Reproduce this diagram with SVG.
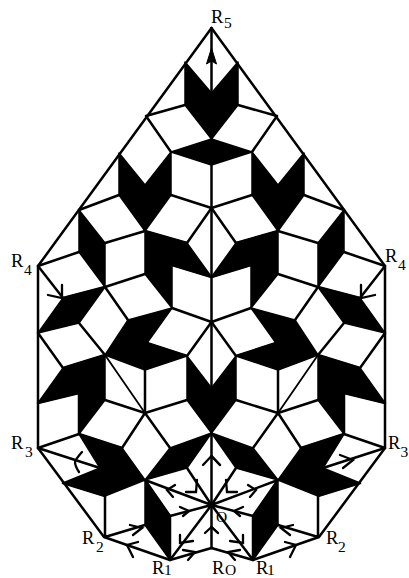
<svg xmlns="http://www.w3.org/2000/svg" xmlns:xlink="http://www.w3.org/1999/xlink" width="409" height="578" viewBox="0 0 409 578">
<style>
.tile{fill:#000;stroke:#000;stroke-width:1.5;stroke-linejoin:round}
.edge{fill:none;stroke:#000;stroke-width:2.5;stroke-linecap:round;stroke-linejoin:round}
.thin{stroke-width:1.8}
.barb{fill:none;stroke:#000;stroke-width:2.3;stroke-linecap:round;stroke-linejoin:miter}
text{font-family:"Liberation Serif","Times New Roman",serif;fill:#000}
.r{font-size:18.5px}
.s{font-size:15.5px}
</style>
<defs>
<g id="half-tiles">
<polygon class="tile" points="185,62 211.5,93 211.5,139 185,105"/>
<polygon class="tile" points="171,152 211.5,139 211.5,165"/>
<polygon class="tile" points="119,153 145,185 171,152 171,195 145,231 119,195"/>
<polygon class="tile" points="79,210 105,243 105,287 79,252"/>
<polygon class="tile" points="145,231 187,243 211.5,277 172,265 172,308 145,274"/>
<polygon class="tile" points="63,298 105,287 79,323 38,333"/>
<polygon class="tile" points="105,355 128,320 172,308 147,343 187,356 145,370"/>
<polygon class="tile" points="187,356 211.5,388 211.5,433 187,400"/>
<polygon class="tile" points="63,368 105,355 105,400 79,434 79,393 38,403"/>
<polygon class="tile" points="79,434 122,448 145,480 105,496 63,483 100,468"/>
<polygon class="tile" points="211.5,433 170,448 145,480 187,468"/>
<polygon class="tile" points="145,480 170,516 170,560 145,525"/>
</g>
<g id="half-edges">
<path class="edge" d="M211.5,28L38,266V333M38,333V448L104,537L170,560L211.5,548"/>
<path class="edge" d="M185,105L146,116L171,152M119,195L79,210M171,195L211.5,208M145,231L187,243L211.5,208M105,243L145,231"/>
<path class="edge" d="M79,252L38,266L63,298L105,287L145,274M172,265L211.5,277M172,308L211.5,322L187,356L147,343M105,287L128,320"/>
<path class="edge" d="M38,333L63,368L105,355L79,323M145,370V413L187,400M105,400L145,413L170,448M145,413L122,448M79,393V434M38,403L79,393"/>
<path class="edge thin" d="M105,355L145,413"/>
<path class="edge" d="M38,448L79,434L122,448M38,448L100,468M63,483L105,496V537L145,525M170,516V560M170,516L145,480M187,468L211.5,505L145,480M170,516L211.5,505L170,560"/>
</g>
<g id="half-arrows">
<path class="barb" d="M203,465L211.5,456"/>
<path class="barb" d="M197,480L196,492L186,492"/>
<path class="barb" d="M175,485L167,490L173,497"/>
<path class="barb" d="M180,507L189,511L183,516"/>
<path class="barb" d="M205,533L211.5,527"/>
<path class="barb" d="M180,535L180,543L193,541"/>
<path class="barb" d="M183,550L195,552L188,560"/>
<path class="barb" d="M138,542L127,545L133,557"/>
<path class="barb" d="M130,525L142,528L133,535"/>
<path class="barb" d="M48,295L62,298L62,285"/>
</g>
</defs>
<g id="tiling-left"><use href="#half-tiles" xlink:href="#half-tiles"/></g>
<g id="tiling-right"><use href="#half-tiles" xlink:href="#half-tiles" transform="translate(423,0) scale(-1,1)"/></g>
<g id="connectors">
<path class="edge" d="M211.5,28V93M211.5,165V548"/>
<use href="#half-edges" xlink:href="#half-edges"/>
<use href="#half-edges" xlink:href="#half-edges" transform="translate(423,0) scale(-1,1)"/>
<path class="barb" d="M211.5,456L220,465"/>
<path class="barb" d="M211.5,527L218,533"/>
</g>
<g id="arrows">
<use href="#half-arrows" xlink:href="#half-arrows"/>
<use href="#half-arrows" xlink:href="#half-arrows" transform="translate(423,0) scale(-1,1)"/>
<path class="barb" d="M82,452Q75,460 75,462Q75,466 79,472"/>
<path class="barb" d="M340,455L353,460L343,468"/>
<polygon points="211.5,48 206.5,64 211.5,61 216.5,64" fill="#000" stroke="#000" stroke-width="1"/>
</g>
<g id="labels">
<text class="r" x="211" y="23">R</text><text class="s" x="224" y="28">5</text>
<text class="r" x="11" y="267">R</text><text class="s" x="24" y="275">4</text>
<text class="r" x="385" y="262">R</text><text class="s" x="398" y="270">4</text>
<text class="r" x="11" y="449">R</text><text class="s" x="25" y="457">3</text>
<text class="r" x="388" y="449">R</text><text class="s" x="400.5" y="457">3</text>
<text class="r" x="82" y="544">R</text><text class="s" x="96" y="552">2</text>
<text class="r" x="326" y="544">R</text><text class="s" x="338" y="552">2</text>
<text class="r" x="152" y="573.5">R</text><text class="s" x="164" y="574.5">1</text>
<text class="r" x="212" y="573.5">R</text><text class="s" x="225" y="574.5">O</text>
<text class="r" x="256" y="573.5">R</text><text class="s" x="267" y="574.5">1</text>
<text class="s" x="216" y="522">O</text>
</g>
</svg>
